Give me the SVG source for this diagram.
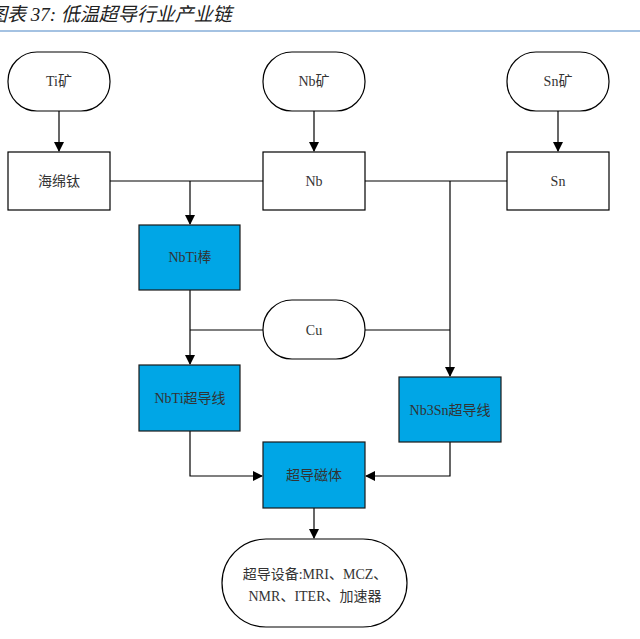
<svg xmlns="http://www.w3.org/2000/svg" width="640" height="639" viewBox="0 0 640 639">
<style>
text{font-family:"Liberation Serif","Noto Sans CJK SC",serif;font-size:14px;fill:#333;text-anchor:middle;dominant-baseline:central}
.w{fill:#fff;stroke:#000;stroke-width:1.2}
.b{fill:#00a6e6;stroke:#1a1a1a;stroke-width:1.2}
.c{fill:none;stroke:#000;stroke-width:1.2}
</style>
<defs><marker id="a" markerWidth="10" markerHeight="10" refX="9" refY="5" orient="auto" markerUnits="userSpaceOnUse"><path d="M0,0 L10,5 L0,10z" fill="#000"/></marker></defs>
<rect width="640" height="639" fill="#fff"/>
<text x="-12" y="14" style="text-anchor:start;font-size:19px;font-style:italic;fill:#222">图表 37: 低温超导行业产业链</text>
<line x1="0" y1="31" x2="640" y2="31" stroke="#4a86c5" stroke-width="1.2"/>
<g id="connectors" class="c">
<path d="M59,111V151" marker-end="url(#a)"/>
<path d="M314,111V151" marker-end="url(#a)"/>
<path d="M558,111V151" marker-end="url(#a)"/>
<path d="M110,181H263M365,181H507"/>
<path d="M190,181V224" marker-end="url(#a)"/>
<path d="M450,181V376" marker-end="url(#a)"/>
<path d="M190,290V364" marker-end="url(#a)"/>
<path d="M190,330H263M365,330H450"/>
<path d="M190,431V476H262" marker-end="url(#a)"/>
<path d="M450,442V476H366" marker-end="url(#a)"/>
<path d="M314,508V538" marker-end="url(#a)"/>
</g>
<g id="ti-ore"><rect class="w" x="8" y="52" width="102" height="59" rx="29"/><text x="59" y="81">Ti矿</text></g>
<g id="nb-ore"><rect class="w" x="263" y="52" width="102" height="59" rx="29"/><text x="314" y="81">Nb矿</text></g>
<g id="sn-ore"><rect class="w" x="507" y="52" width="102" height="59" rx="29"/><text x="558" y="81">Sn矿</text></g>
<g id="sponge-ti"><rect class="w" x="8" y="152" width="102" height="58"/><text x="59" y="181">海绵钛</text></g>
<g id="nb"><rect class="w" x="263" y="152" width="102" height="58"/><text x="314" y="181">Nb</text></g>
<g id="sn"><rect class="w" x="507" y="152" width="102" height="58"/><text x="558" y="181">Sn</text></g>
<g id="nbti-rod"><rect class="b" x="139" y="225" width="101" height="65"/><text x="190" y="257">NbTi棒</text></g>
<g id="cu"><rect class="w" x="263" y="300" width="102" height="59" rx="29"/><text x="314" y="330">Cu</text></g>
<g id="nbti-wire"><rect class="b" x="139" y="365" width="101" height="66"/><text x="190" y="398">NbTi超导线</text></g>
<g id="nb3sn-wire"><rect class="b" x="399" y="377" width="102" height="65"/><text x="450" y="410">Nb3Sn超导线</text></g>
<g id="magnet"><rect class="b" x="263" y="442" width="102" height="66"/><text x="314" y="475">超导磁体</text></g>
<g id="devices"><rect class="w" x="222" y="539" width="185" height="88" rx="44"/><text x="315" y="574">超导设备:MRI、MCZ、</text><text x="315" y="596">NMR、ITER、加速器</text></g>
</svg>
